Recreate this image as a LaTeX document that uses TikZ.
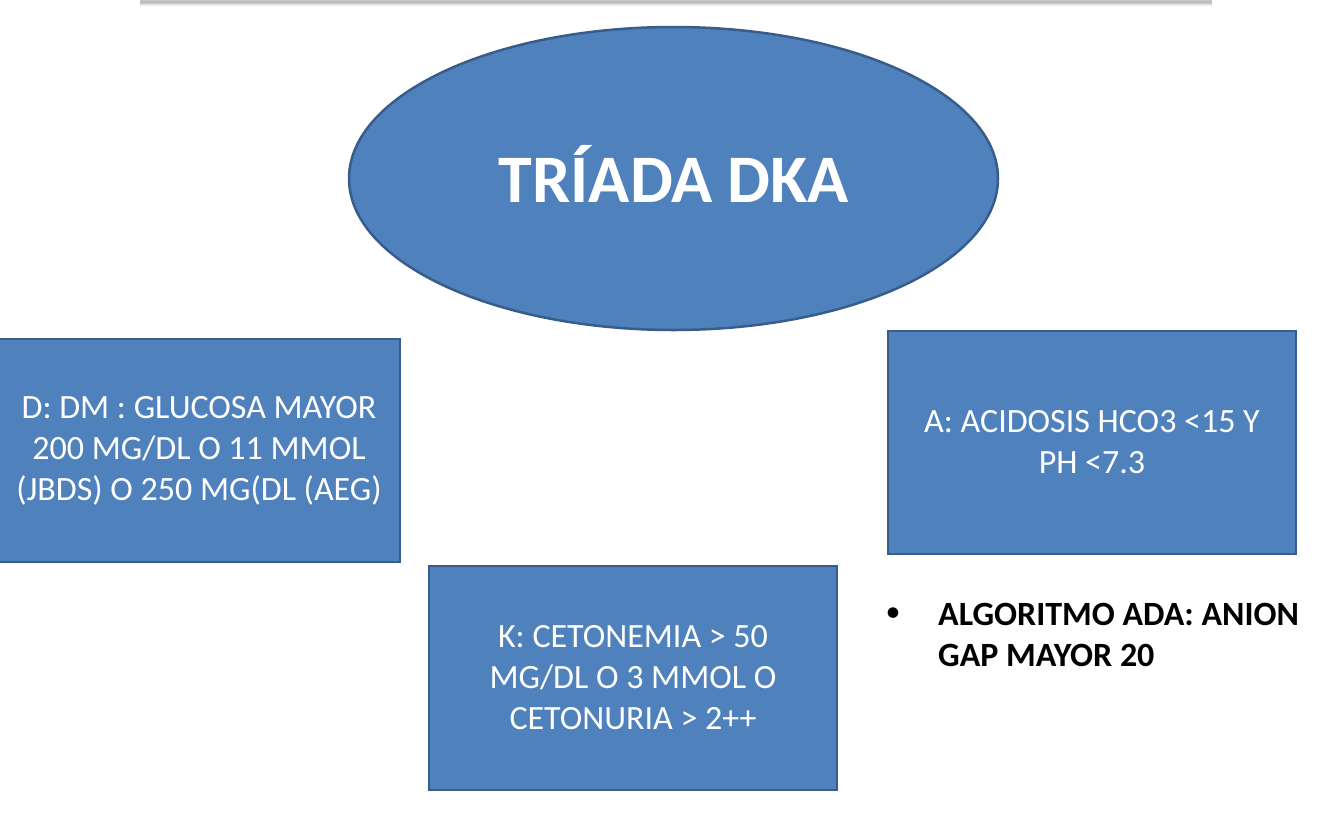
\documentclass[tikz,border=0pt]{standalone}
\usepackage{fontspec}
\setmainfont{Carlito}
\usetikzlibrary{shapes.geometric}
\definecolor{boxfill}{HTML}{4F81BD}
\definecolor{boxline}{HTML}{385D8A}
\tikzset{
  card/.style={rectangle, draw=boxline, line width=2.5pt, fill=boxfill, text=white,
    align=center, inner sep=0pt, font=\fontsize{34}{41}\selectfont},
  oval/.style={ellipse, draw=boxline, line width=2.5pt, fill=boxfill, text=white,
    inner sep=0pt, font=\bfseries\fontsize{68}{80}\selectfont},
  note/.style={text=black, align=left, inner sep=0pt, font=\bfseries\fontsize{34}{41}\selectfont}
}
\begin{document}
\begin{tikzpicture}[x=1pt,y=-1pt]
\useasboundingbox (0,0) rectangle (1334,812);
% top strip with soft shadow
\foreach \i/\c in {0/22,1/25,2/28,3/20,4/12,5/6} {
  \fill[black!\c!white] (140,\i) rectangle (1212,\i+1.05);
}

\node[oval, minimum width=649pt, minimum height=303pt] (title) at (673.5,178.5) {};
\node[text=white, inner sep=0pt, font=\bfseries\fontsize{68}{80}\selectfont] (tt) at (674,174) {TRÍADA DKA};

\node[card, minimum width=402pt, minimum height=223pt] (d) at (199,450.5)
  {D: DM : GLUCOSA MAYOR\\200 MG/DL O 11 MMOL\\(JBDS) O 250 MG(DL (AEG)};

\node[card, minimum width=408pt, minimum height=223pt] (a) at (1092,442.5)
  {A: ACIDOSIS HCO3 <15 Y\\PH <7.3};

\node[card, minimum width=408pt, minimum height=224pt] (k) at (633,678)
  {K: CETONEMIA > 50\\MG/DL O 3 MMOL O\\CETONURIA > 2++};

\node[text=black, inner sep=0pt, font=\fontsize{30}{36}\selectfont] (bul) at (893,615) {•};
\node[note, anchor=west] (ada) at (938,635) {ALGORITMO ADA: ANION\\GAP MAYOR 20};
\end{tikzpicture}
\end{document}
